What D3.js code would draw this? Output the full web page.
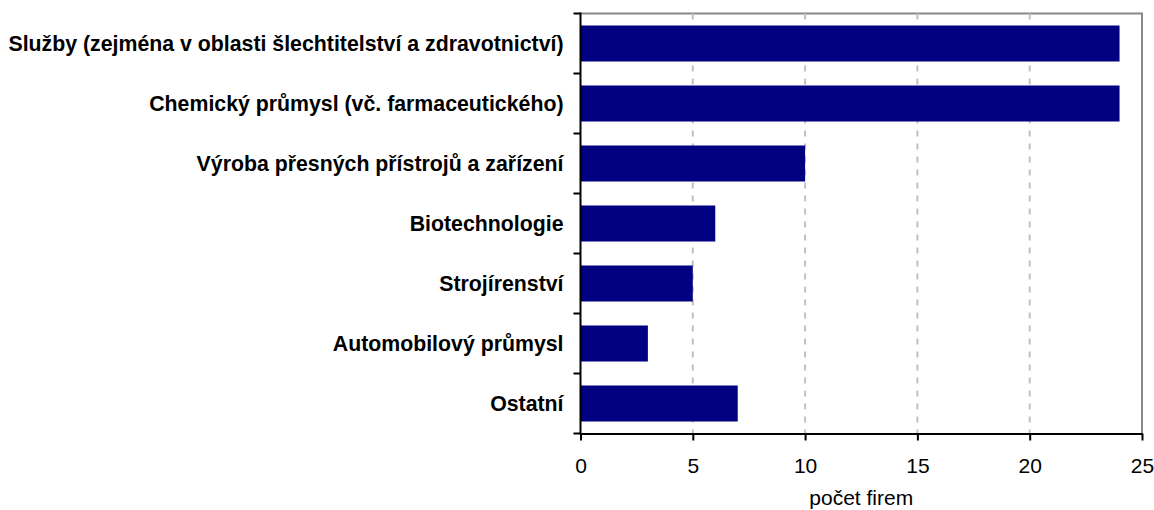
<!DOCTYPE html>
<html><head><meta charset="utf-8">
<script src="https://cdn.jsdelivr.net/npm/d3@7"></script>
<style>body{margin:0;background:#fff}svg{display:block}</style>
</head><body><svg id="c" width="1154" height="510"></svg>
<script>
const categories = ["Služby (zejména v oblasti šlechtitelství a zdravotnictví)","Chemický průmysl (vč. farmaceutického)","Výroba přesných přístrojů a zařízení","Biotechnologie","Strojírenství","Automobilový průmysl","Ostatní"];
const values = [24,24,10,6,5,3,7];
const xTicks = [0,5,10,15,20,25];
const xTitle = "počet firem";

(function(){
const svg = d3.select("#c");
const FONT = "Liberation Sans, Arial, sans-serif";
const pL = 580.5, pR = 1142, pT = 13.5, pB = 433.5;
const x = d3.scaleLinear().domain([0,25]).range([pL,pR]);
const y = d3.scaleBand().domain(categories).range([pT,pB]).paddingInner(0.4).paddingOuter(0.2);

// plot border (top and right)
svg.append("path").attr("d",`M${pL},${pT}H${pR}V${pB}`).attr("fill","none").attr("stroke","#888").attr("stroke-width",2);

// gridlines
svg.append("g").selectAll("line").data(xTicks.filter(d=>d>0&&d<25)).join("line")
  .attr("x1",d=>x(d)).attr("x2",d=>x(d)).attr("y1",pT).attr("y2",pB)
  .attr("stroke","#c0c0c0").attr("stroke-width",2).attr("stroke-dasharray","6,7");

// bars
svg.append("g").selectAll("rect").data(values).join("rect")
  .attr("x",x(0)).attr("y",(d,i)=>y(categories[i]))
  .attr("width",d=>x(d)-x(0)).attr("height",y.bandwidth()).attr("fill","#000080");

// bottom axis
const gx = svg.append("g").attr("transform",`translate(0,${pB})`)
  .call(d3.axisBottom(x).tickValues(xTicks).tickSize(7).tickPadding(18).tickSizeOuter(0));
gx.select(".domain").attr("stroke","#000").attr("stroke-width",2);
gx.selectAll(".tick line").attr("stroke","#000").attr("stroke-width",2);
gx.selectAll("text").attr("font-family",FONT).attr("font-size",21).attr("fill","#000");

// left axis: ticks at band boundaries
const step = y.step();
const bounds = d3.range(categories.length+1).map(i=>pT+i*step);
svg.append("line").attr("x1",pL).attr("x2",pL).attr("y1",pT-1).attr("y2",pB+1).attr("stroke","#000").attr("stroke-width",2);
svg.append("g").selectAll("line").data(bounds).join("line")
  .attr("x1",pL-7).attr("x2",pL).attr("y1",d=>d).attr("y2",d=>d).attr("stroke","#000").attr("stroke-width",2);
svg.append("g").selectAll("text").data(categories).join("text")
  .attr("x",pL-17).attr("y",d=>y(d)+y.bandwidth()/2).attr("dy","0.35em")
  .attr("text-anchor","end").attr("font-family",FONT)
  .attr("font-weight","bold").attr("font-size",21.3).text(d=>d);

svg.append("text").attr("x",(pL+pR)/2).attr("y",505).attr("text-anchor","middle")
  .attr("font-family",FONT).attr("font-size",21).text(xTitle);
})();
</script></body></html>
